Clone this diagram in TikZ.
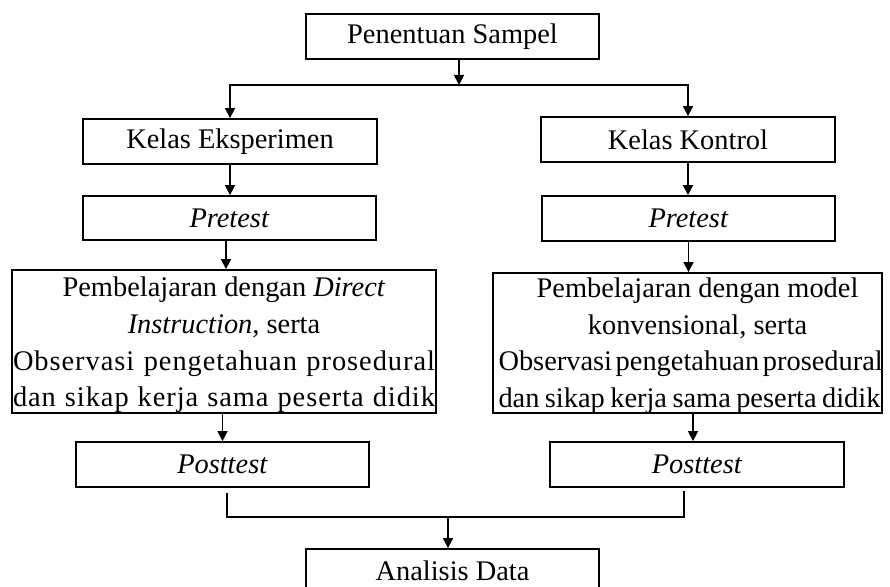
\documentclass[tikz,border=0pt]{standalone}
\usepackage{fontspec}
\setmainfont{Liberation Serif}
\usetikzlibrary{arrows.meta,calc}
\begin{document}
\begin{tikzpicture}[x=0.5pt,y=-0.5pt,
  box/.style={draw, line width=0.9pt, inner sep=0pt, align=center, font=\fontsize{14.2}{18.3}\selectfont},
  txt/.style={inner sep=0pt, align=center, font=\fontsize{14.2}{18.3}\selectfont},
  sz/.style 2 args={minimum width=#1*0.5pt, minimum height=#2*0.5pt},
  arr/.style={line width=0.8pt, -{Triangle[width=5pt,length=5pt]}},
  ln/.style={line width=0.8pt}]
\useasboundingbox (0,0) rectangle (890,587);
\node[box,sz={293}{45}] (ps) at (452.5,36.5) {Penentuan Sampel};
\node[box,sz={294}{45}] (ke) at (230,141.5) {Kelas Eksperimen};
\node[box,sz={294}{45}] (kk) at (688,139.5) {Kelas Kontrol};
\node[box,sz={293}{44}] (prl) at (229.5,218) {\textit{Pretest}};
\node[box,sz={293}{45}] (prr) at (688.5,218.5) {\textit{Pretest}};
\node[box,sz={424}{143}] (bl) at (224,341.5) {};
\node[txt] (blt) at (224,345) {Pembelajaran dengan \textit{Direct}\\ \textit{Instruction,} serta\hspace*{25pt}\\ {\addfontfeature{LetterSpace=3.4}\makebox[211pt][s]{Observasi pengetahuan prosedural}}\\ {\addfontfeature{LetterSpace=3.4}\makebox[211pt][s]{dan sikap kerja sama peserta didik}}};
\node[box,sz={389}{140}] (br) at (687.5,343) {};
\node[txt] (brt) at (689.5,345.5) {\hspace*{8pt}Pembelajaran dengan model\\ \hspace*{8pt}konvensional, serta\\ {\spaceskip=0.18em plus 1em minus 0.05em\makebox[191pt][s]{Observasi pengetahuan prosedural}}\\ {\spaceskip=0.18em plus 1em minus 0.05em\makebox[191pt][s]{dan sikap kerja sama peserta didik}}};
\node[box,sz={293}{45}] (pol) at (222.5,464.5) {\textit{Posttest}};
\node[box,sz={294}{45}] (por) at (697,464.5) {\textit{Posttest}};
\node[box,sz={293}{43}] (ad) at (452.5,570.5) {Analisis Data};
\coordinate (j) at (459,85);
\draw[arr] (ps.south -| j) -- (j);
\draw[arr] (j) -| (ke.north);
\draw[arr] (j) -| (kk.north);
\draw[arr] (ke.south) -- (ke.south |- prl.north);
\draw[arr] (kk.south) -- (kk.south |- prr.north);
\draw[arr] ([xshift=-1.75pt]prl.south) -- ([xshift=-1.75pt]prl.south |- bl.north);
\draw[arr] (prr.south) -- (prr.south |- br.north);
\draw[arr] (pol.north |- bl.south) -- (pol.north);
\draw[arr] ([xshift=-2pt]por.north |- br.south) -- ([xshift=-2pt]por.north);
\coordinate (m) at (448,517);
\draw[ln] ([xshift=2.25pt,yshift=-2.5pt]pol.south) |- (m) -| ([xshift=-6.5pt,yshift=-1.5pt]por.south);
\draw[arr] (m) -- (m |- ad.north);
\end{tikzpicture}
\end{document}
